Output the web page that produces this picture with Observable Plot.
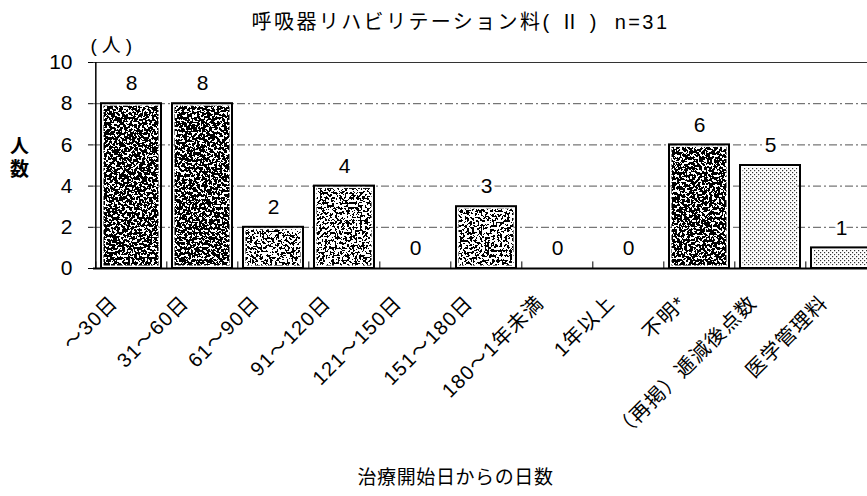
<!DOCTYPE html>
<html>
<head>
<meta charset="utf-8">
<script src="https://cdn.jsdelivr.net/npm/d3@7"></script>
<script src="https://cdn.jsdelivr.net/npm/@observablehq/plot@0.6"></script>
<style>
  html, body { margin: 0; padding: 0; background: #fff; overflow: hidden; }
</style>
</head>
<body>
<div id="chart"></div>
<script>
// Days since treatment start, respiratory rehabilitation (II), n=31
const categories = ["～30日", "31～60日", "61～90日", "91～120日", "121～150日", "151～180日",
  "180～1年未満", "1年以上", "不明*", "（再掲）逓減後点数", "医学管理料"];
const counts = [8, 8, 2, 4, 0, 3, 0, 0, 6, 5, 1];
// the last two columns are restated sub-totals, not part of the day ranges
const restated = ["（再掲）逓減後点数", "医学管理料"];
const yTicks = [0, 2, 4, 6, 8, 10];
const gridValues = [2, 4, 6, 8];
const titleText = "呼吸器リハビリテーション料( Ⅱ )  n=31";
const xTitle = "治療開始日からの日数";
const yUnit = "(人)";
const yTitle = "人\n数";

const rows = categories.map((c, i) => ({category: c, count: counts[i]}));

const W = 867, H = 496;
const xRange = [93, 878];
const step = (xRange[1] - xRange[0]) / categories.length;
const font = "'Liberation Sans', Arial, 'Noto Sans CJK JP', sans-serif";

const fillFor = d => restated.includes(d.category) ? "url(#dots)"
  : d.count >= 6 ? "url(#grainDark)" : "url(#grainMid)";

const chart = Plot.plot({
  width: W,
  height: H,
  marginTop: 62,
  marginBottom: H - 268,
  marginLeft: 93,
  marginRight: 0,
  style: {fontFamily: font, background: "#fff", color: "#000"},
  x: {type: "band", domain: categories, range: xRange, paddingInner: 0.16, paddingOuter: 0.08, axis: null},
  y: {domain: [0, 10], axis: null},
  marks: [
    // dashed grid and top line
    Plot.ruleY(gridValues, {stroke: "#555", strokeWidth: 1, strokeDasharray: "8,3,2,3"}),
    Plot.ruleY([10], {stroke: "#333", strokeWidth: 1}),
    // textured fill, inset to leave a thin white margin inside the outline
    Plot.barY(rows.filter(d => d.count > 0), {x: "category", y: "count", fill: fillFor, inset: 2.5}),
    Plot.barY(rows.filter(d => d.count > 0), {x: "category", y: "count", fill: "none", stroke: "#000", strokeWidth: 2}),
    // axes
    Plot.ruleY([0], {stroke: "#000", strokeWidth: 2}),
    Plot.ruleX([categories[0]], {x: d => d, y1: 0, y2: 10, dx: -step / 2, stroke: "#000", strokeWidth: 1.5}),
    Plot.ruleX(categories, {x: d => d, y1: 0, y2: 0.32, dx: -step / 2, stroke: "#000", strokeWidth: 1}),
    Plot.axisY(yTicks, {tickSize: 5, tickPadding: 16, fontSize: 21, tickFormat: d => d, label: null}),
    // value labels
    Plot.text(rows, {x: "category", y: "count", text: d => String(d.count), dy: -20, fontSize: 21,
      stroke: "#fff", strokeWidth: 7, fill: "#000", paintOrder: "stroke"}),
    // rotated category labels
    Plot.text(categories, {x: d => d, y: 0, text: d => d, rotate: -45, textAnchor: "end",
      dx: -17, dy: 31, fontSize: 20, ariaDescription: "category-labels"}),
    // titles
    Plot.text([titleText], {frameAnchor: "top", textAnchor: "middle", lineAnchor: "middle",
      dx: -20, dy: -40, fontSize: 20, ariaDescription: "title"}),
    Plot.text([xTitle], {frameAnchor: "bottom", textAnchor: "middle", lineAnchor: "middle",
      dx: -25, dy: 209, fontSize: 19, ariaDescription: "x-title"}),
    Plot.text([yUnit], {frameAnchor: "top-left", textAnchor: "start", lineAnchor: "middle",
      dx: -3, dy: -17, fontSize: 19, ariaDescription: "y-unit"}),
    Plot.text([yTitle], {frameAnchor: "top-left", textAnchor: "middle", lineAnchor: "middle",
      dx: -74, dy: 95, fontSize: 19, lineHeight: 1.2, fontWeight: "bold"})
  ]
});

// wider character spacing on the Japanese text
const svg = d3.select(chart);
svg.select('g[aria-description="title"]').style("letter-spacing", "2.4px");
svg.select('g[aria-description="x-title"]').style("letter-spacing", "0.6px");
svg.select('g[aria-description="y-unit"]').style("letter-spacing", "5px");
svg.select('g[aria-description="category-labels"]').style("letter-spacing", "1.2px");

// grain and dot textures used by the bars
const defs = svg.insert("defs", ":first-child");
function grain(id, offset, seed, freq) {
  const f = defs.append("filter").attr("id", id + "-f")
    .attr("filterUnits", "userSpaceOnUse").attr("x", 0).attr("y", 0).attr("width", W).attr("height", H);
  f.append("feTurbulence").attr("type", "fractalNoise").attr("baseFrequency", freq)
    .attr("numOctaves", 4).attr("seed", seed).attr("result", "t");
  f.append("feColorMatrix").attr("in", "t").attr("type", "matrix")
    .attr("values", `0 0 0 0 0  0 0 0 0 0  0 0 0 0 0  1.6 0 0 0 ${offset}`).attr("result", "a");
  const ct = f.append("feComponentTransfer").attr("in", "a");
  ct.append("feFuncA").attr("type", "discrete").attr("tableValues", "0 1");
  const p = defs.append("pattern").attr("id", id).attr("patternUnits", "userSpaceOnUse")
    .attr("width", W).attr("height", H);
  p.append("rect").attr("width", W).attr("height", H).attr("fill", "#fff");
  p.append("rect").attr("width", W).attr("height", H).attr("fill", "#000").attr("filter", `url(#${id}-f)`);
}
grain("grainDark", -0.24, 7, 0.4);
grain("grainMid", -0.34, 11, 0.4);
const dots = defs.append("pattern").attr("id", "dots").attr("patternUnits", "userSpaceOnUse")
  .attr("width", 4).attr("height", 4);
dots.append("rect").attr("width", 4).attr("height", 4).attr("fill", "#fff");
dots.append("rect").attr("x", 0).attr("y", 0).attr("width", 1.2).attr("height", 1.2).attr("fill", "#333");
dots.append("rect").attr("x", 2).attr("y", 2).attr("width", 1.2).attr("height", 1.2).attr("fill", "#333");

document.getElementById("chart").appendChild(chart);
</script>
</body>
</html>
